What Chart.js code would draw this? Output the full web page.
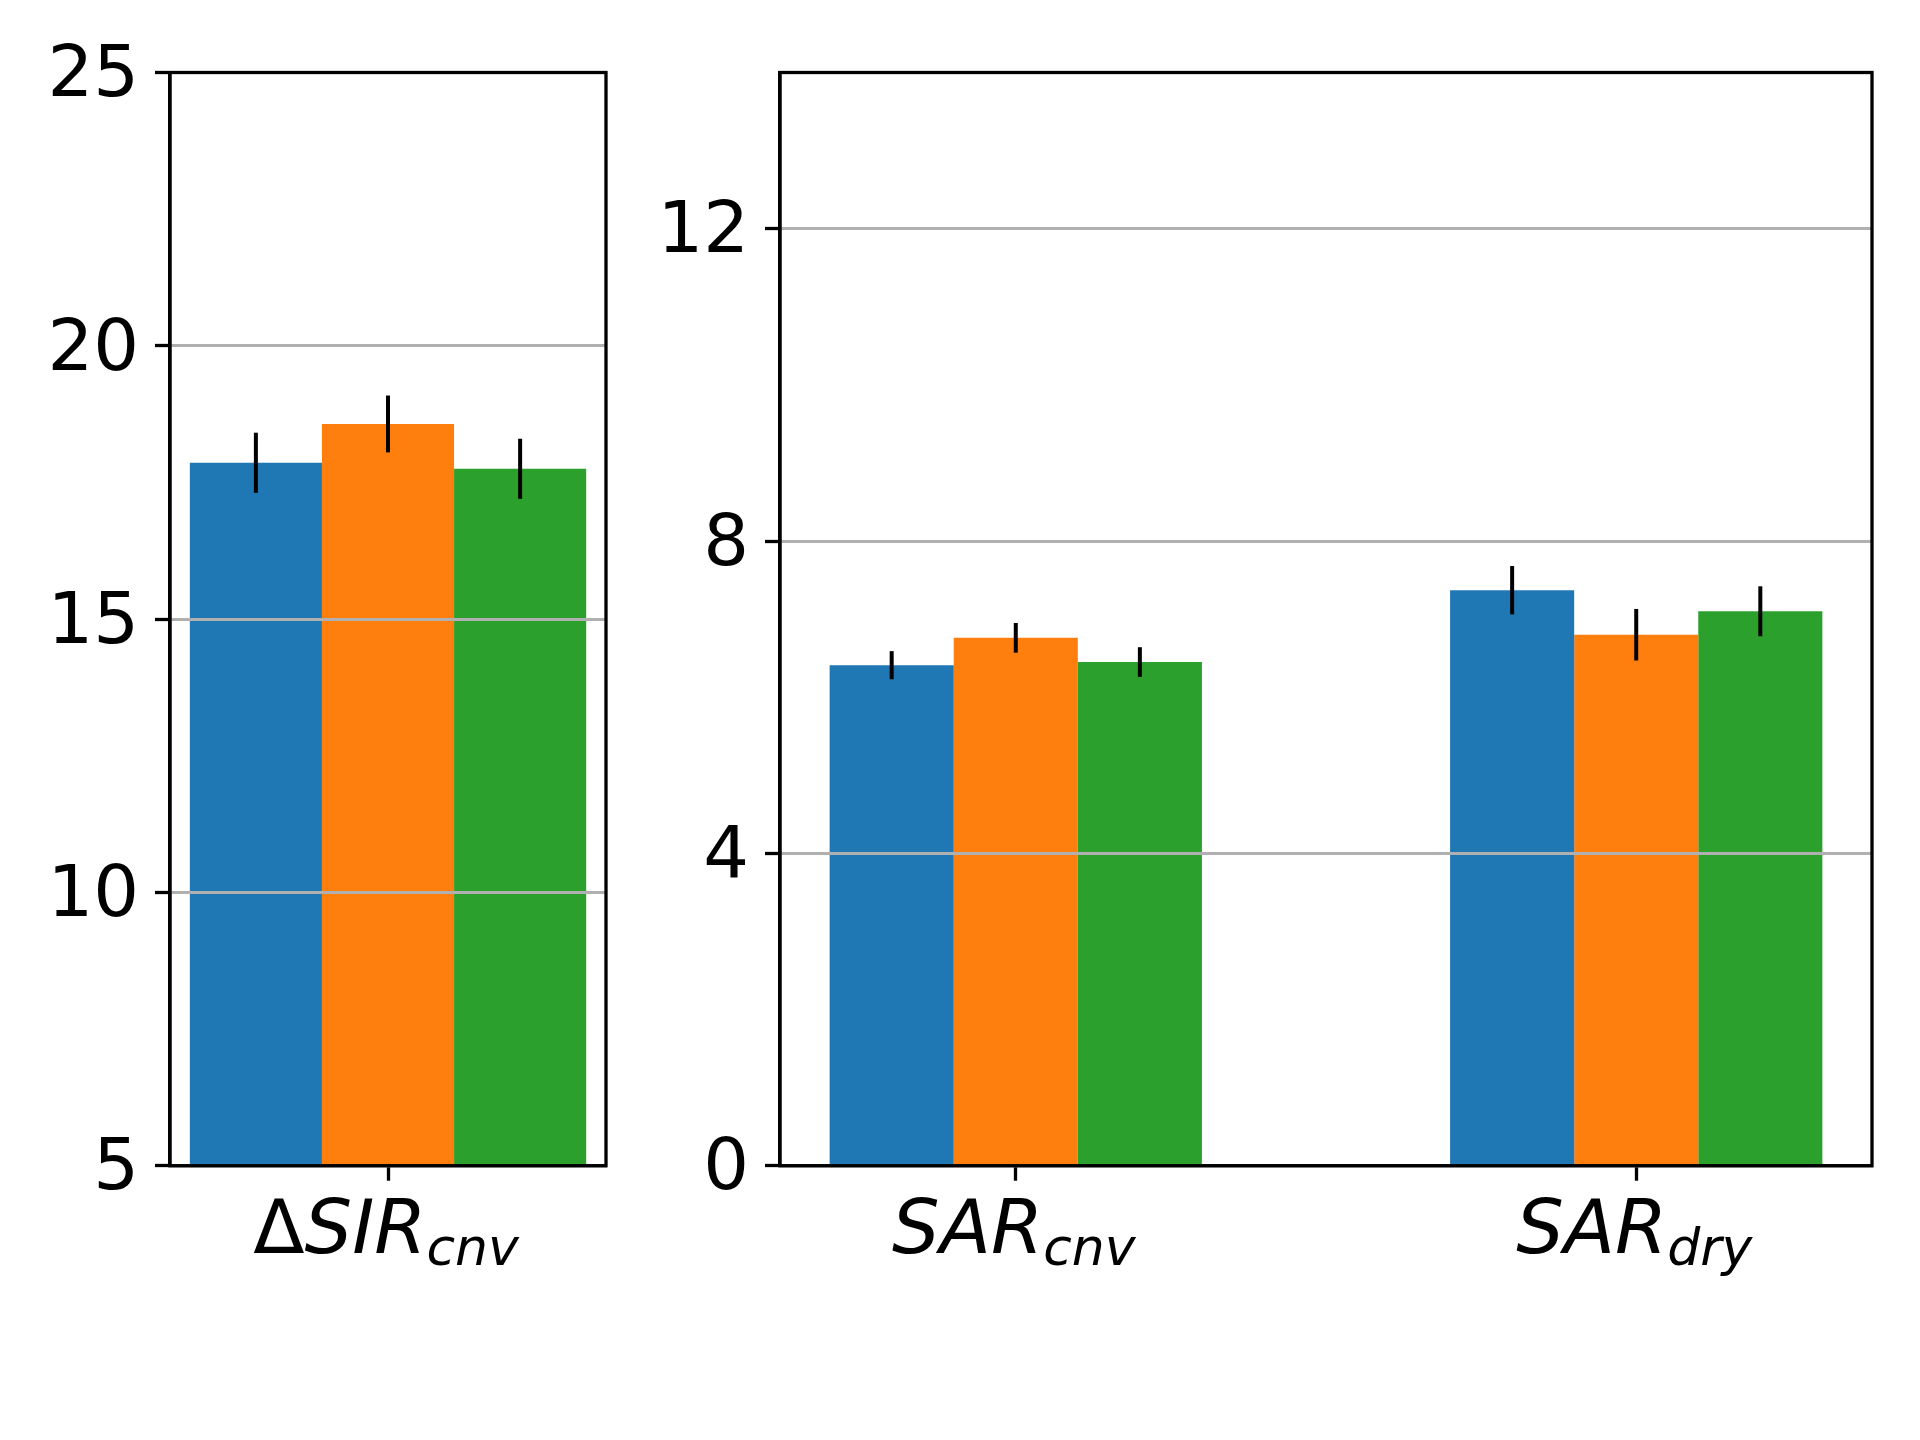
<!DOCTYPE html>
<html>
<head>
<meta charset="utf-8">
<script src="https://cdn.jsdelivr.net/npm/chart.js@4.4.0/dist/chart.umd.min.js"></script>
<style>
  html, body { margin: 0; padding: 0; background: #fff; }
  #wrap { position: relative; width: 1920px; height: 1440px; background: #fff; }
  canvas { position: absolute; top: 0; }
  #left { left: 0; }
  #right { left: 640px; }
</style>
</head>
<body>
<div id="wrap">
  <canvas id="left" width="640" height="1440"></canvas>
  <canvas id="right" width="1280" height="1440"></canvas>
</div>
<script>
const leftCategories = ['ΔSIR_cnv'];
const rightCategories = ['SAR_cnv', 'SAR_dry'];
const methodColors = ['#1f77b4', '#ff7f0e', '#2ca02c'];

// one value per method (blue, orange, green)
const sirCnvMeans = [17.86, 18.57, 17.75];
const sirCnvErrors = [0.55, 0.52, 0.55];
const sarCnvMeans = [6.41, 6.76, 6.45];
const sarCnvErrors = [0.18, 0.19, 0.19];
const sarDryMeans = [7.37, 6.80, 7.10];
const sarDryErrors = [0.31, 0.33, 0.32];

const leftTicks = [5, 10, 15, 20, 25];
const rightTicks = [0, 4, 8, 12];

const FONT = 'DejaVu Sans';
const AXIS_BOTTOM = 1165.7;

function makeDatasets(meansList, errorsList) {
    return methodColors.map((color, m) => ({
        data: meansList.map((means, c) => ({ x: c, y: means[m] })),
        errors: errorsList.map(errs => errs[m]),
        backgroundColor: color,
        borderWidth: 0,
        clip: 0
    }));
}

// label like "SAR_cnv": italic main text with a smaller italic subscript
function drawLabel(ctx, label, cx, baseY) {
    const [main, sub] = label.split('_');
    const pieces = [];
    let rest = main;
    if (/^[\u0391-\u03A9]/.test(main)) {
        pieces.push({ t: main[0], font: `75px "${FONT}"`, dy: 0 });
        rest = main.slice(1);
    }
    pieces.push({ t: rest, font: `italic 75px "${FONT}"`, dy: 0 });
    if (sub) pieces.push({ t: sub, font: `italic 52px "${FONT}"`, dy: 12 });

    let total = 0;
    pieces.forEach(p => {
        ctx.font = p.font;
        p.w = ctx.measureText(p.t).width;
        total += p.w;
    });
    let x = cx - total / 2 - 2;
    ctx.fillStyle = '#000';
    ctx.textAlign = 'left';
    ctx.textBaseline = 'alphabetic';
    pieces.forEach(p => {
        ctx.font = p.font;
        ctx.fillText(p.t, x, baseY + p.dy);
        x += p.w;
    });
}

const decor = {
    id: 'decor',
    afterDraw(chart) {
        const ctx = chart.ctx;
        const area = chart.chartArea;
        const xs = chart.scales.x, ys = chart.scales.y;
        ctx.save();

        // error bars
        ctx.strokeStyle = '#000';
        ctx.lineWidth = 4;
        chart.data.datasets.forEach((ds, di) => {
            chart.getDatasetMeta(di).data.forEach((bar, i) => {
                const v = ds.data[i].y, e = ds.errors[i];
                ctx.beginPath();
                ctx.moveTo(bar.x, ys.getPixelForValue(v + e));
                ctx.lineTo(bar.x, ys.getPixelForValue(v - e));
                ctx.stroke();
            });
        });

        // axes frame
        ctx.lineWidth = 3.3;
        ctx.strokeRect(area.left, area.top, area.right - area.left, area.bottom - area.top);

        // category labels
        chart.options.plugins.decor.labels.forEach((lab, i) => {
            drawLabel(ctx, lab, xs.getPixelForValue(i), area.bottom + 87);
        });
        ctx.restore();
    }
};

function makeChart(id, categories, datasets, yMin, yMax, yTicks, xMin, xMax, catPct, yWidth, rightPad) {
    return new Chart(document.getElementById(id), {
        type: 'bar',
        data: { datasets: datasets },
        options: {
            responsive: false,
            animation: false,
            devicePixelRatio: 1,
            events: [],
            categoryPercentage: catPct,
            barPercentage: 1,
            layout: { padding: { top: 72.5, left: 0, right: rightPad, bottom: 0 } },
            plugins: {
                legend: { display: false },
                tooltip: { enabled: false },
                decor: { labels: categories }
            },
            scales: {
                x: {
                    type: 'linear',
                    min: xMin,
                    max: xMax,
                    offset: false,
                    afterBuildTicks: s => { s.ticks = categories.map((c, i) => ({ value: i })); },
                    afterFit: s => { s.height = 1440 - AXIS_BOTTOM; },
                    ticks: { display: false },
                    grid: {
                        offset: false,
                        drawOnChartArea: false,
                        tickLength: 15,
                        tickColor: '#000',
                        tickWidth: 3.3
                    },
                    border: { color: '#000', width: 3.3 }
                },
                y: {
                    min: yMin,
                    max: yMax,
                    afterBuildTicks: s => { s.ticks = yTicks.map(v => ({ value: v })); },
                    afterFit: s => { s.width = yWidth; },
                    ticks: {
                        color: '#000',
                        font: { family: FONT, size: 72 },
                        padding: 16,
                        labelOffset: 5,
                        autoSkip: false
                    },
                    grid: {
                        color: '#b0b0b0',
                        lineWidth: 3,
                        tickColor: '#000',
                        tickWidth: 3.3,
                        tickLength: 15,
                        z: 1
                    },
                    border: { color: '#000', width: 3.3, z: 2 }
                }
            }
        },
        plugins: [decor]
    });
}

makeChart('left', leftCategories,
    makeDatasets([sirCnvMeans], [sirCnvErrors]),
    5, 25, leftTicks, -0.33, 0.33, 0.6 / 0.66, 170, 34);

makeChart('right', rightCategories,
    makeDatasets([sarCnvMeans, sarDryMeans], [sarCnvErrors, sarDryErrors]),
    0, 14, rightTicks, -0.38, 1.38, 0.6, 140, 48);
</script>
</body>
</html>
